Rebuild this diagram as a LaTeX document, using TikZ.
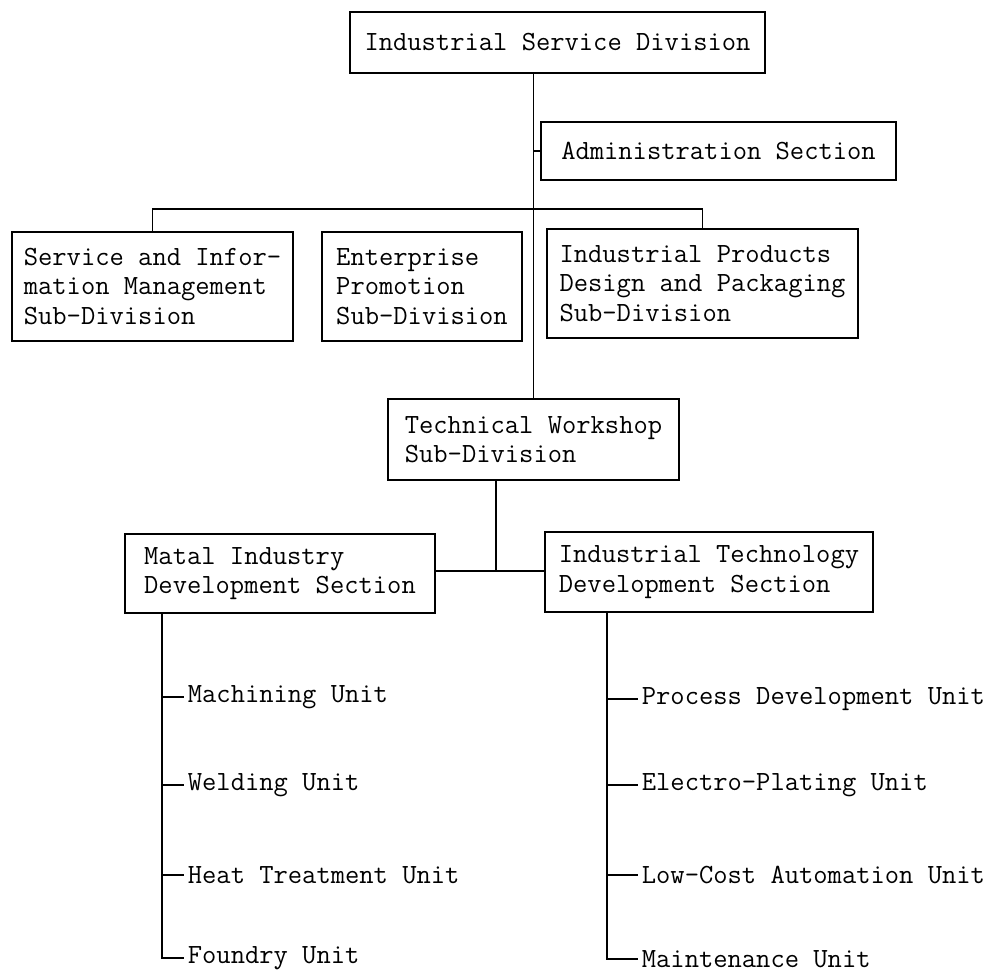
\documentclass[tikz,border=0pt]{standalone}
\usepackage{fontspec}
\tikzset{
  unitbox/.style={draw,line width=0.9pt,align=left,inner sep=0pt},
  link/.style={line width=0.9pt},
  leaf/.style={anchor=west,inner xsep=2pt}
}

\begin{document}
\begin{tikzpicture}[x=0.02cm,y=-0.02cm,font=\ttfamily\fontsize{15.8}{16.8}\selectfont]
  \useasboundingbox (0,0) rectangle (1003,975);
  \node[unitbox,minimum width=8.3cm,minimum height=1.22cm] (isd) at (557.5,42.5)
    {Industrial Service Division};
  \node[unitbox,minimum width=7.1cm,minimum height=1.16cm] (adm) at (718.5,151)
    {Administration Section};
  \node[unitbox,minimum width=5.62cm,minimum height=2.18cm] (sim) at (152.5,286.5)
    {Service and Infor-\\mation Management\\Sub-Division};
  \node[unitbox,minimum width=4cm,minimum height=2.18cm] (epr) at (422,286.5)
    {Enterprise\\Promotion\\Sub-Division};
  \node[unitbox,minimum width=6.22cm,minimum height=2.18cm] (ipd) at (702.5,283.5)
    {Industrial Products\\Design and Packaging\\Sub-Division};
  \node[unitbox,minimum width=5.82cm,minimum height=1.62cm] (tws) at (533.5,439.5)
    {Technical Workshop\\Sub-Division};
  \node[unitbox,minimum width=6.2cm,minimum height=1.58cm] (mid) at (280,573.5)
    {Matal Industry\\Development Section};
  \node[unitbox,minimum width=6.56cm,minimum height=1.6cm] (itd) at (709,572)
    {Industrial Technology\\Development Section};

  \node[leaf] (mu1) at (184,697) {Machining Unit};
  \node[leaf] (mu2) at (184,785) {Welding Unit};
  \node[leaf] (mu3) at (184,875) {Heat Treatment Unit};
  \node[leaf] (mu4) at (184,958) {Foundry Unit};
  \node[leaf] (tu1) at (638,699) {Process Development Unit};
  \node[leaf] (tu2) at (638,785) {Electro-Plating Unit};
  \node[leaf] (tu3) at (638,875) {Low-Cost Automation Unit};
  \node[leaf] (tu4) at (638,959) {Maintenance Unit};

  \coordinate (bus) at (533,209);
  \coordinate (fork) at (496,571);
  \coordinate (mstem) at (162,0);
  \coordinate (tstem) at (607,0);

  \draw[link] (isd.south -| tws.north) -- (tws.north);
  \draw[link] (adm.west -| tws.north) -- (adm.west);
  \draw[link] (sim.north) -- (sim.north |- bus) -- (ipd.north |- bus) -- (ipd.north);
  \draw[link] (tws.south -| fork) -- (fork);
  \draw[link] (mid.east |- fork) -- (itd.west |- fork);
  \draw[link] (mid.south -| mstem) |- (mu4.west);
  \draw[link] (itd.south -| tstem) |- (tu4.west);
  \foreach \i in {1,2,3} {
    \draw[link] (mu\i.west -| mstem) -- (mu\i.west);
    \draw[link] (tu\i.west -| tstem) -- (tu\i.west);
  }
\end{tikzpicture}
\end{document}
